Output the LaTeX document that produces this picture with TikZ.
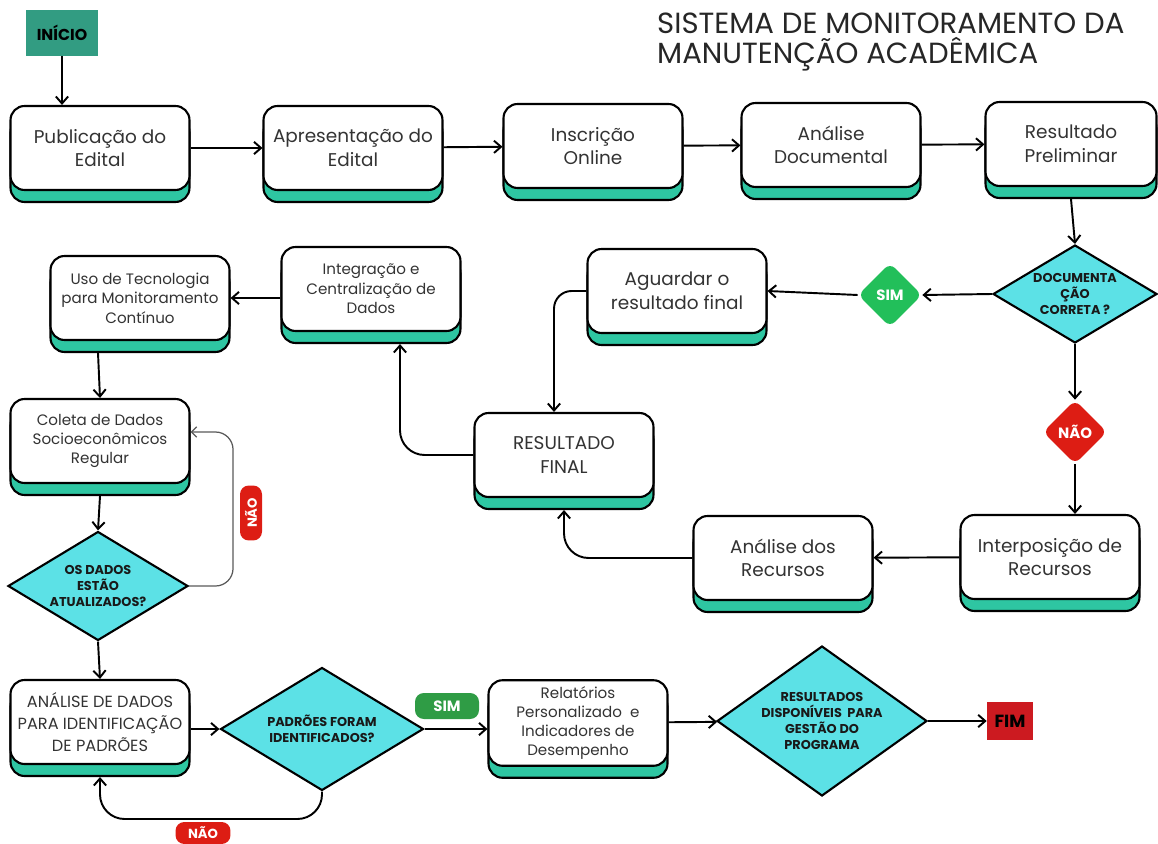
\documentclass[tikz,border=0pt]{standalone}
\usepackage{fontspec}
\setmainfont{Poppins}
\usetikzlibrary{shapes.geometric,shadows,arrows.meta}

\definecolor{faixa}{HTML}{2EC6A2}
\definecolor{ciano}{HTML}{5CE1E6}
\definecolor{verdeinicio}{HTML}{329C82}
\definecolor{verdesim}{HTML}{22BF5A}
\definecolor{verdesimb}{HTML}{2F9C45}
\definecolor{vermelho}{HTML}{DD1D14}
\definecolor{vermelhofim}{HTML}{CC1A20}
\definecolor{texto}{HTML}{333333}

\tikzset{
	etapa/.style={draw=black, line width=1.2pt, fill=white, rounded corners=8pt, minimum width=3.58cm, minimum height=1.68cm, align=center, text=texto, font=\fontsize{10.5}{13.5}\selectfont, general shadow={fill=faixa, draw=black, line width=1.2pt, shadow yshift=-0.24cm}},
	etapamenor/.style={etapa, font=\fontsize{8.6}{11}\selectfont},
	decisao/.style={diamond, aspect=1.65, draw=black, line width=1.2pt, fill=ciano, inner sep=0pt, align=center, text=black!90, font=\bfseries\fontsize{7.3}{9}\selectfont},
	rotulo/.style={diamond, rounded corners=4pt, inner sep=0pt, minimum width=1.28cm, minimum height=1.28cm, text=white, font=\bfseries\fontsize{8.5}{10}\selectfont},
	pilula/.style={rounded corners=5pt, fill=vermelho, text=white, inner sep=0pt, font=\bfseries\fontsize{7.5}{9}\selectfont},
	seta/.style={line width=1.1pt, -{Straight Barb[length=4pt,width=7pt]}},
	laco/.style={line width=0.7pt, draw=black!65, -{Straight Barb[length=3pt,width=6pt]}}
}

\begin{document}
\begin{tikzpicture}[x=0.02cm,y=-0.02cm]
	
	\useasboundingbox (0,0) rectangle (1158,844);
	
	\node [anchor=north west, align=left, text=black!85, font=\fontsize{16.6}{16.8}\selectfont] (titulo) at (651,7) {SISTEMA DE MONITORAMENTO DA\\MANUTENÇÃO ACADÊMICA};
	
	\node [fill=verdeinicio, minimum width=1.44cm, minimum height=0.92cm, font=\bfseries\fontsize{9}{10}\selectfont] (inicio) at (62,33) {INÍCIO};
	
	\node [etapa] (publicacao) at (100,148) {Publicação do\\Edital};
	\node [etapa] (apresentacao) at (353,148) {Apresentação do\\Edital};
	\node [etapa] (inscricao) at (593,146) {Inscrição\\Online};
	\node [etapa] (analisedoc) at (831,145) {Análise\\Documental};
	\node [etapa, minimum width=3.42cm] (preliminar) at (1071,144) {Resultado\\Preliminar};
	
	\node [decisao, aspect=1.67, minimum width=3.28cm, minimum height=1.96cm] (docok) at (1075,294) {DOCUMENTA\\ÇÃO\\CORRETA ?};
	
	\node [rotulo, fill=verdesim] (simA) at (890,295) {SIM};
	
	\node [rotulo, fill=vermelho] (naoC) at (1075,432) {NÃO};
	
	\node [etapa] (aguardar) at (677,291) {Aguardar o\\resultado final};
	
	\node [etapa] (resfinal) at (564,455) {RESULTADO\\FINAL};
	
	\node [etapamenor] (integracao) at (371,289) {Integração e\\Centralização de\\Dados};
	
	\node [etapamenor] (uso) at (140,298) {Uso de Tecnologia\\para Monitoramento\\Contínuo};
	
	\node [etapamenor] (coleta) at (100,441) {Coleta de Dados\\Socioeconômicos\\Regular};
	
	\node [decisao, minimum width=3.6cm, minimum height=2.18cm] (atualizados) at (98,586) {OS DADOS\\ESTÃO\\ATUALIZADOS?};
	
	\node [pilula, rotate=90, minimum width=1.1cm, minimum height=0.44cm] (naoA) at (251,513) {NÃO};
	
	\node [etapa, font=\fontsize{9.2}{12.5}\selectfont] (analisedados) at (100,722) {ANÁLISE DE DADOS\\PARA IDENTIFICAÇÃO\\DE PADRÕES};
	
	\node [decisao, minimum width=4.06cm, minimum height=2.46cm] (padroes) at (322,729) {PADRÕES FORAM\\IDENTIFICADOS?};
	
	\node [pilula, minimum width=1.1cm, minimum height=0.44cm] (naoB) at (203,833) {NÃO};
	
	\node [pilula, fill=verdesimb, minimum width=1.28cm, minimum height=0.52cm, font=\bfseries\fontsize{8.5}{10}\selectfont] (simB) at (447,706) {SIM};
	
	\node [etapamenor] (relatorios) at (578,723) {Relatórios\\Personalizado~~e\\Indicadores de\\Desempenho};
	
	\node [decisao, aspect=1.4, minimum width=4.2cm, minimum height=3.0cm] (disponiveis) at (822,721) {RESULTADOS\\DISPONÍVEIS~~PARA\\GESTÃO DO\\PROGRAMA};
	
	\node [fill=vermelhofim, minimum width=0.92cm, minimum height=0.76cm, font=\bfseries\fontsize{10}{11}\selectfont] (fim) at (1010,721) {FIM};
	
	\node [etapa] (interposicao) at (1050,557) {Interposição de\\Recursos};
	
	\node [etapa] (analiserec) at (783,558) {Análise dos\\Recursos};
	
	\coordinate (fundo) at (0,819);
	
	\draw [seta] (inicio.south) -- (inicio.south |- publicacao.north);
	
	\draw [seta] (publicacao) -- (apresentacao);
	\draw [seta] (apresentacao) -- (inscricao);
	\draw [seta] (inscricao) -- (analisedoc);
	\draw [seta] (analisedoc) -- (preliminar);
	
	\draw [seta] ([yshift=-0.24cm]preliminar.south) -- (docok.north);
	
	\draw [seta] (docok.west) -- (simA.east);
	\draw [seta] (simA.west) -- (aguardar.east);
	
	\draw [seta, rounded corners=10pt] (aguardar.west) -| ([xshift=-0.2cm]resfinal.north);
	
	\draw [seta, rounded corners=14pt] (resfinal.west) -| ([xshift=0.58cm,yshift=-0.24cm]integracao.south);
	
	\draw [seta] (integracao.west |- uso.east) -- (uso.east);
	
	\draw [seta] ([xshift=-0.84cm,yshift=-0.24cm]uso.south) -- (coleta.north);
	
	\draw [seta] ([yshift=-0.24cm]coleta.south) -- (atualizados.north);
	
	\draw [laco, rounded corners=10pt] (atualizados.east) -- ++(44,0) |- ([yshift=0.18cm]coleta.east);
	
	\draw [seta] (atualizados.south) -- (analisedados.north);
	
	\draw [seta] (analisedados.east |- padroes.west) -- (padroes.west);
	
	\draw [seta, rounded corners=14pt] (padroes.south) -- (padroes.south |- fundo) -- (analisedados.south |- fundo) -- ([yshift=-0.24cm]analisedados.south);
	
	\draw [seta] (padroes.east) -- (padroes.east -| relatorios.west);
	
	\draw [seta] (relatorios) -- (disponiveis);
	
	\draw [seta] (disponiveis.east) -- (fim.west);
	
	\draw [seta] (docok.south) -- (naoC.north);
	
	\draw [seta] (naoC.south) -- (naoC.south |- interposicao.north);
	
	\draw [seta] (interposicao) -- (analiserec);
	
	\draw [seta, rounded corners=14pt] (analiserec.west) -| ([yshift=-0.24cm]resfinal.south);

\end{tikzpicture}
\end{document}
